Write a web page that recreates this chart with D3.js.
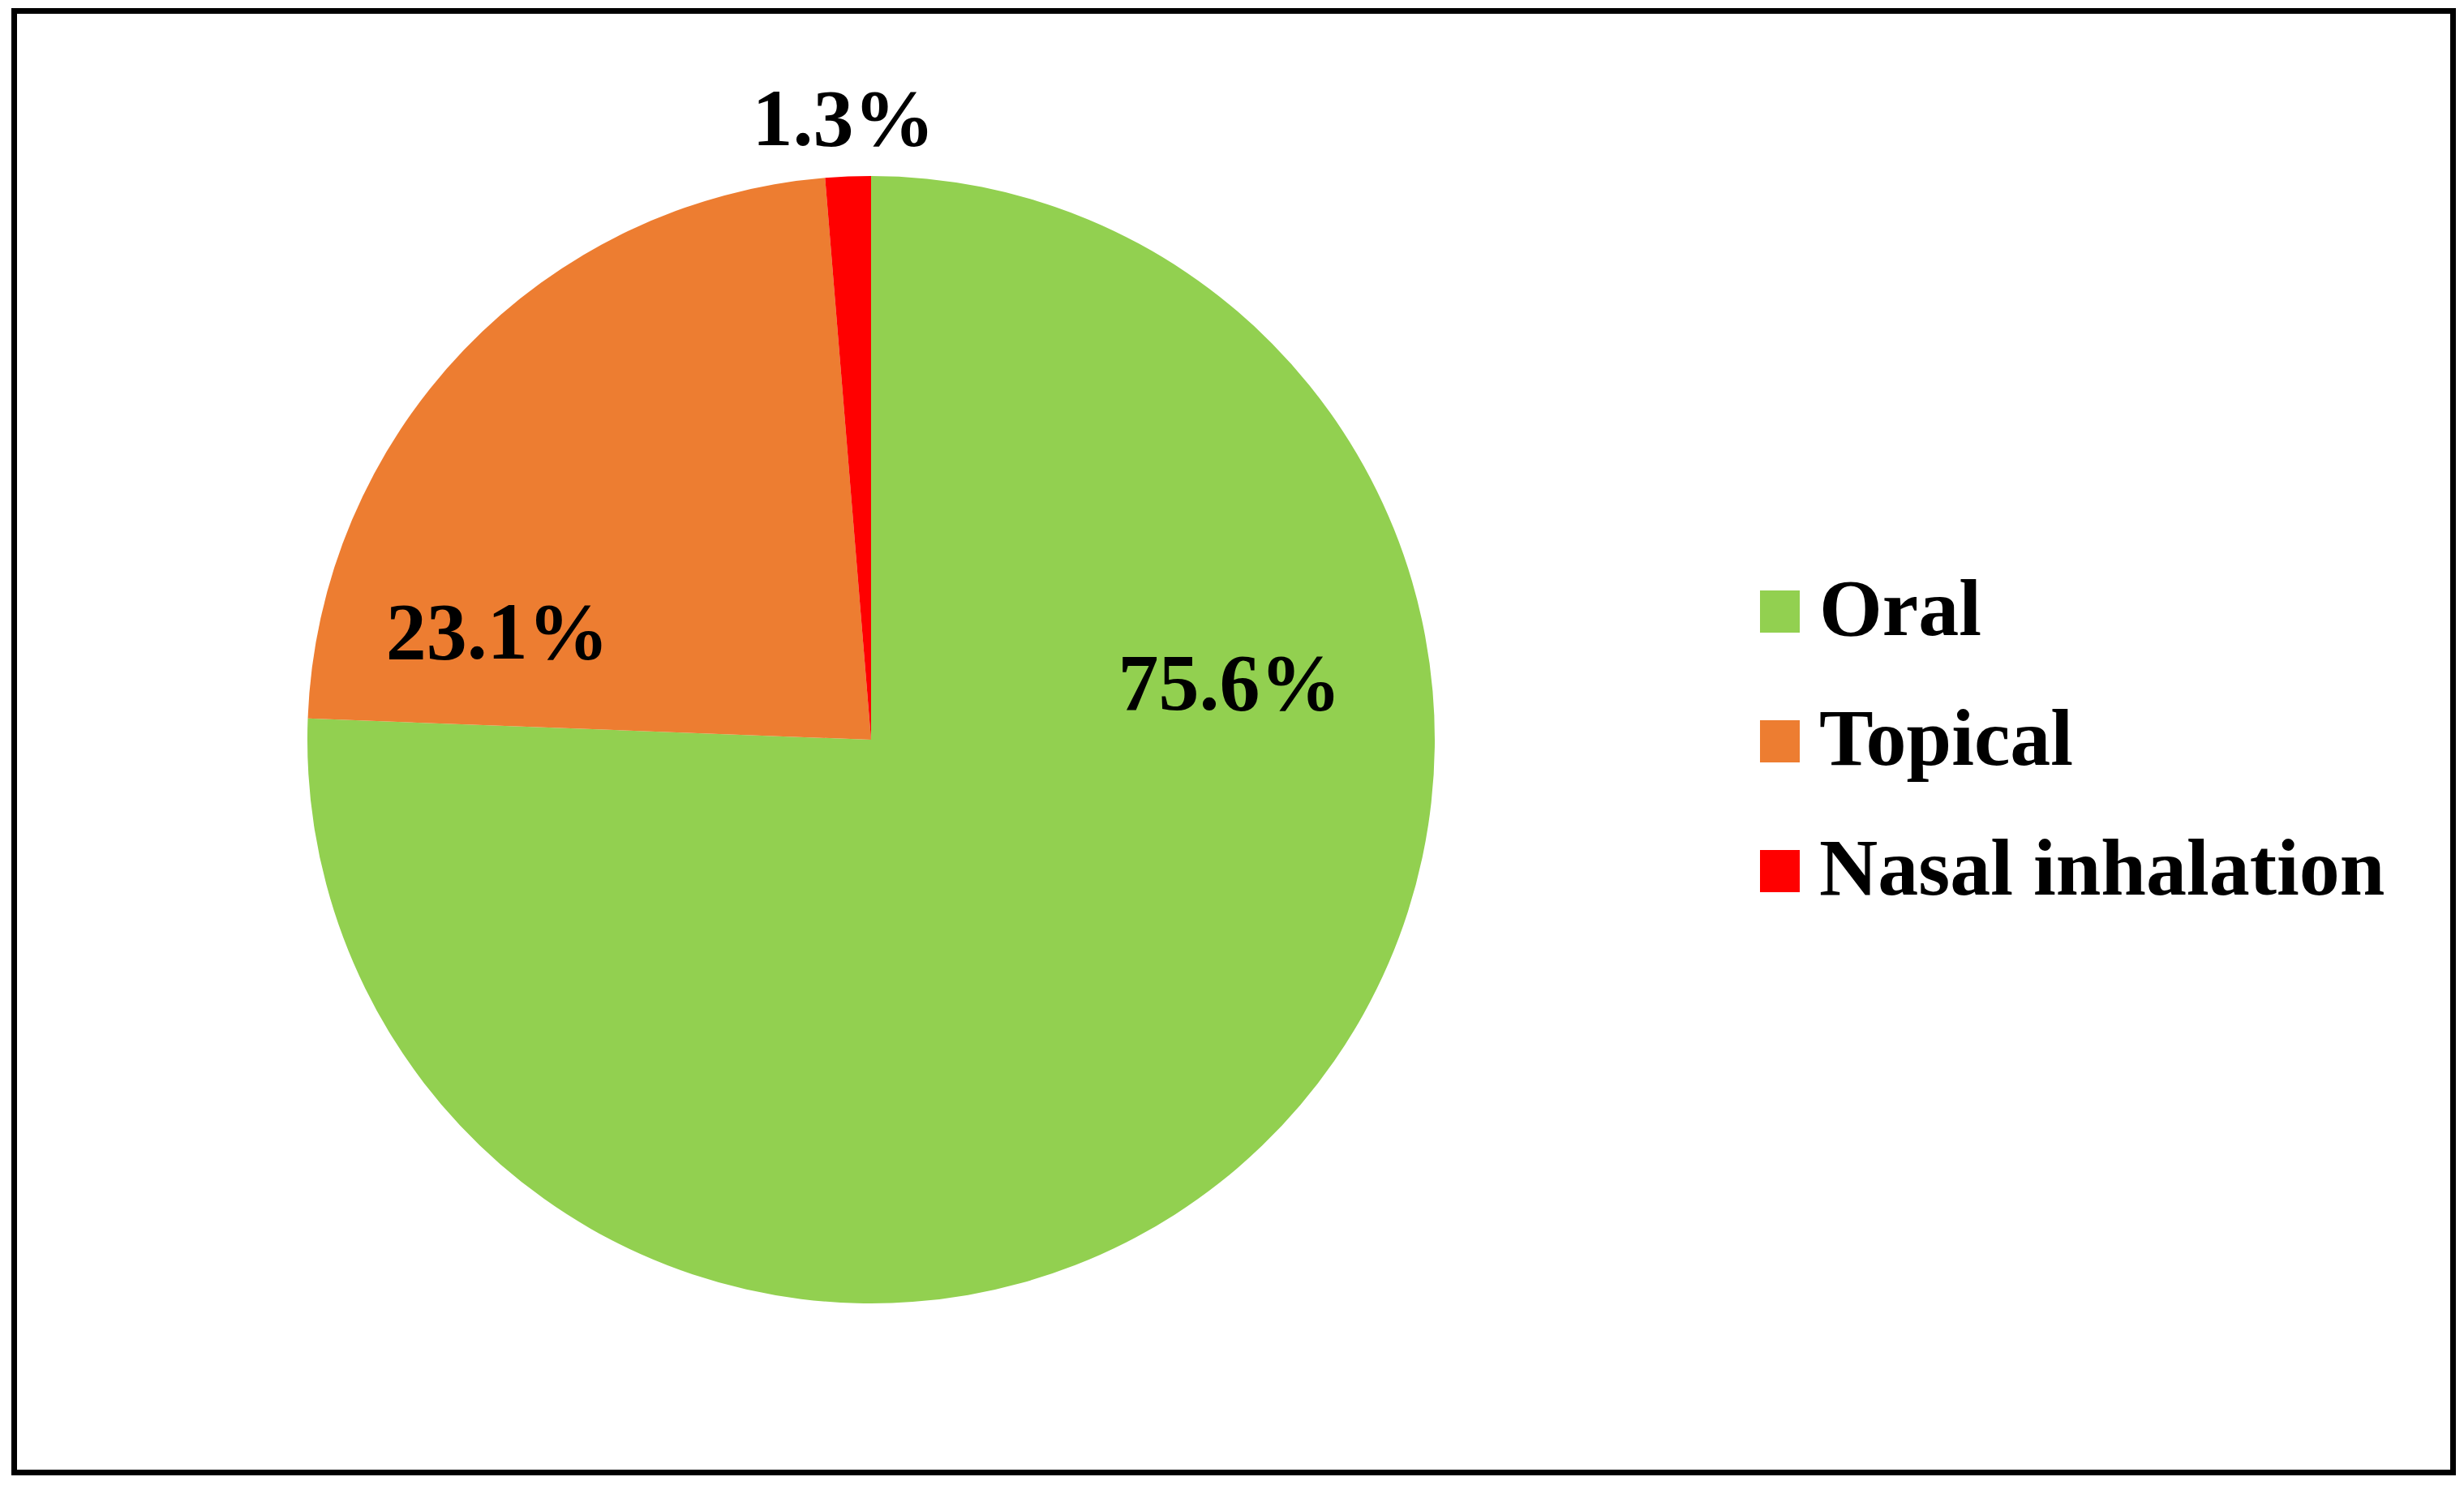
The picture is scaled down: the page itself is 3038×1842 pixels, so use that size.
<!DOCTYPE html>
<html>
<head>
<meta charset="utf-8">
<script src="https://cdn.jsdelivr.net/npm/d3@7"></script>
<style>
  html, body { margin: 0; padding: 0; background: #ffffff; }
  svg { display: block; }
</style>
</head>
<body>
<svg id="chart" width="3038" height="1842"></svg>
<script>
// ---- data ----
const categories = ["Oral", "Topical", "Nasal inhalation"];
const values = [75.6, 23.1, 1.3];
const valueLabels = ["75.6%", "23.1%", "1.3%"];
const colors = ["#92D050", "#ED7D31", "#FF0000"];

// ---- layout ----
const W = 3038, H = 1842;
const cx = 1074, cy = 912, R = 695;
const fontFamily = "'Liberation Serif', 'Times New Roman', serif";
// label offsets relative to pie centre, in units of the radius (x centre, baseline y)
const labelOffsets = [[0.636, -0.053], [-0.663, -0.144], [-0.049, -1.055]];

const svg = d3.select("#chart");
svg.append("rect").attr("x", 0).attr("y", 0).attr("width", W).attr("height", H).attr("fill", "#fff");

// frame
svg.append("rect")
  .attr("x", 17.5).attr("y", 13.5)
  .attr("width", 3024.5 - 17.5).attr("height", 1815.5 - 13.5)
  .attr("fill", "none").attr("stroke", "#000").attr("stroke-width", 7);

const color = d3.scaleOrdinal().domain(categories).range(colors);
const pie = d3.pie().sort(null).value(d => d.value);
const data = categories.map((c, i) => ({ name: c, value: values[i], label: valueLabels[i] }));
const arcs = pie(data);
const arc = d3.arc().innerRadius(0).outerRadius(R);

const g = svg.append("g").attr("transform", `translate(${cx},${cy})`);
g.selectAll("path.slice").data(arcs).enter().append("path")
  .attr("class", "slice")
  .attr("d", arc)
  .attr("fill", d => color(d.data.name));

g.selectAll("text.lbl").data(arcs).enter().append("text")
  .attr("class", "lbl")
  .attr("x", (d, i) => labelOffsets[i][0] * R)
  .attr("y", (d, i) => labelOffsets[i][1] * R)
  .attr("text-anchor", "middle")
  .attr("font-family", fontFamily)
  .attr("font-weight", "bold")
  .attr("font-size", 100)
  .attr("fill", "#000")
  .text(d => d.data.label);

// legend
const legX = 2170, legY0 = 728, legStep = 160, sw = 49, sh = 52;
const leg = svg.append("g");
const items = leg.selectAll("g.item").data(data).enter().append("g")
  .attr("class", "item")
  .attr("transform", (d, i) => `translate(${legX},${legY0 + i * legStep})`);
items.append("rect")
  .attr("x", 0).attr("y", 0).attr("width", sw).attr("height", sh)
  .attr("fill", d => color(d.name));
items.append("text")
  .attr("x", 73).attr("y", 55)
  .attr("font-family", fontFamily)
  .attr("font-weight", "bold")
  .attr("font-size", 100)
  .attr("fill", "#000")
  .text(d => d.name);
</script>
</body>
</html>
